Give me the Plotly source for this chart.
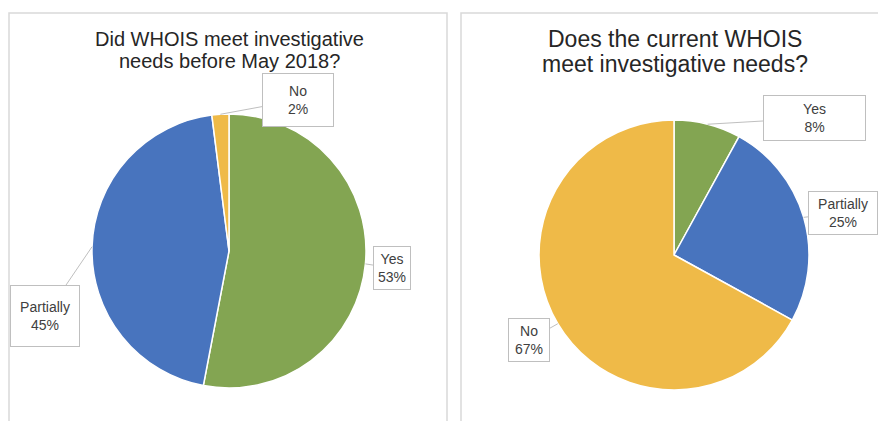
import math
import plotly.graph_objects as go

W, H = 878, 421

# Data
categories = ["Yes", "Partially", "No"]
before_values = [53, 45, 2]
current_values = [8, 25, 67]
title_lines = [["Did WHOIS meet investigative", "needs before May 2018?"],
               ["Does the current WHOIS", "meet investigative needs?"]]
colors = {"Yes": "#83A552", "Partially": "#4874BE", "No": "#EFBA48"}

# Layout (pixels)
pies = [
    dict(values=before_values, cx=229, cy=251, r=137, title=title_lines[0], tx=229, ty=[39, 61], tsize=20,
         boxes={"No": (298, 100, 70, 52), "Yes": (392, 268, 36, 42), "Partially": (45, 316, 68, 60)}),
    dict(values=current_values, cx=674, cy=255, r=135, title=title_lines[1], tx=675, ty=[39, 64], tsize=23,
         boxes={"Yes": (814, 118, 101, 44), "Partially": (843, 213, 68, 42), "No": (529, 340, 40, 42)}),
]

fig = go.Figure()
annotations = []
shapes = []

for p in pies:
    fig.add_trace(go.Pie(
        labels=categories, values=p["values"], sort=False, direction="clockwise", rotation=0,
        marker=dict(colors=[colors[c] for c in categories], line=dict(color="white", width=1.5)),
        textinfo="none", hoverinfo="label+percent", showlegend=False,
        domain=dict(x=[(p["cx"] - p["r"]) / W, (p["cx"] + p["r"]) / W],
                    y=[1 - (p["cy"] + p["r"]) / H, 1 - (p["cy"] - p["r"]) / H]),
    ))
    for line, ty in zip(p["title"], p["ty"]):
        annotations.append(dict(x=p["tx"] / W, y=1 - ty / H, xref="paper", yref="paper",
                                xanchor="center", yanchor="middle",
                                text=line, showarrow=False,
                                font=dict(family="Liberation Sans, Arial", size=p["tsize"], color="#262626")))
    total = sum(p["values"])
    cum = 0
    for cat, v in zip(categories, p["values"]):
        mid = (cum + v / 2) / total
        cum += v
        ang = 2 * math.pi * mid
        hx = p["cx"] + p["r"] * math.sin(ang)
        hy = p["cy"] - p["r"] * math.cos(ang)
        bx, by, bw, bh = p["boxes"][cat]
        pct = round(100 * v / total)
        annotations.append(dict(
            x=hx / W, y=1 - hy / H, xref="paper", yref="paper",
            ax=bx - hx, ay=by - hy, axref="pixel", ayref="pixel",
            text=f"{cat}<br>{pct}%", showarrow=True, arrowhead=0, arrowwidth=1,
            arrowcolor="#bfbfbf", standoff=0,
            bgcolor="white", bordercolor="#bfbfbf", borderwidth=1, borderpad=0,
            width=bw, height=bh, align="center",
            font=dict(family="Liberation Sans, Arial", size=14, color="#404040"),
        ))

# Panel borders
shapes.append(dict(type="rect", xref="paper", yref="paper", x0=9 / W, x1=447 / W,
                   y0=-0.05, y1=1 - 13 / H, line=dict(color="#d9d9d9", width=1.5)))
shapes.append(dict(type="rect", xref="paper", yref="paper", x0=461 / W, x1=1.05,
                   y0=-0.05, y1=1 - 13 / H, line=dict(color="#d9d9d9", width=1.5)))

fig.update_layout(width=W, height=H, margin=dict(l=0, r=0, t=0, b=0),
                  paper_bgcolor="white", plot_bgcolor="white",
                  annotations=annotations, shapes=shapes)

fig.write_html("out.html", config={"displayModeBar": False},
               post_script="document.body.style.margin='0';")
